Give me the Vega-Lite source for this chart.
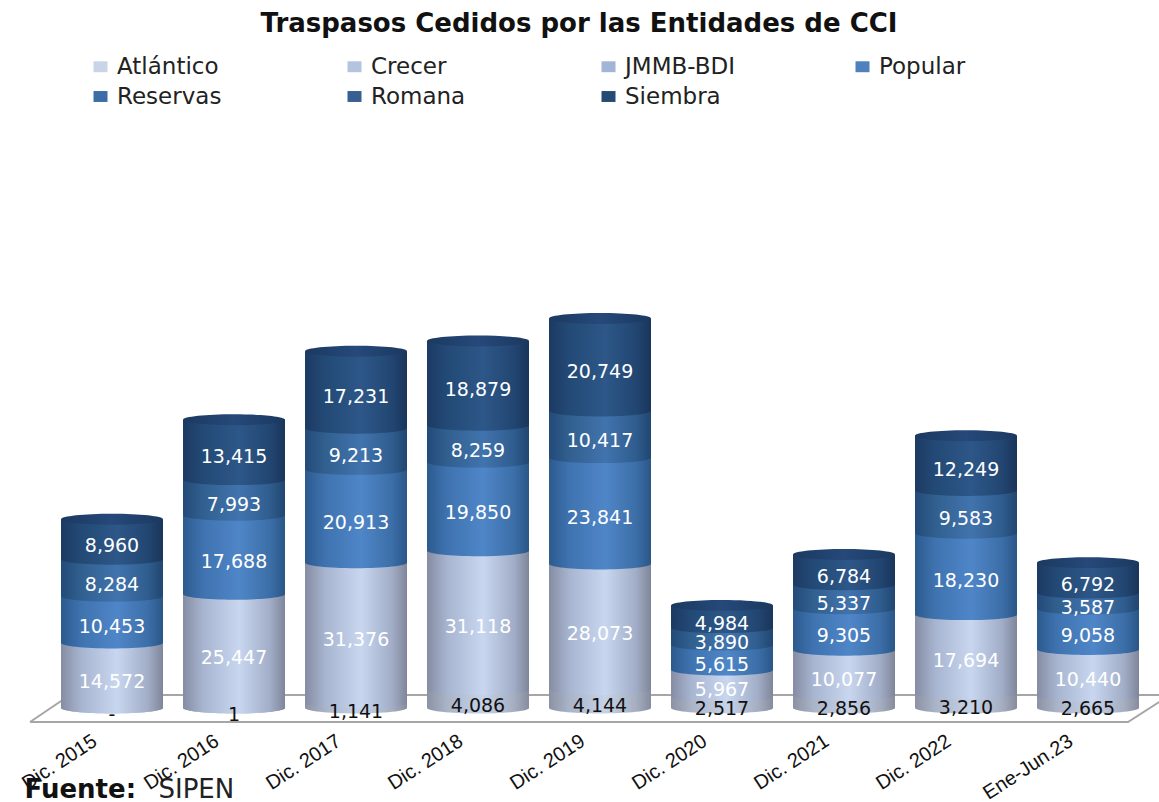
{
"$schema":"https://vega.github.io/schema/vega-lite/v6.json",
"width":1098,"height":680,
"autosize":{"type":"none"},
"padding":{"left":51,"top":50,"right":10,"bottom":72},
"background":"white",
"title":{"text":"Traspasos Cedidos por las Entidades de CCI","anchor":"middle","dx":-21,"offset":13,"font":"DejaVu Sans","fontSize":26,"fontWeight":"bold","color":"#111111"},
"config":{"view":{"stroke":null}},
"datasets":{
"floor":[{"i":1,"px":-0.172,"v":-3135},{"i":2,"px":8.828,"v":-3135},{"i":3,"px":9.172,"v":2911},{"i":4,"px":0.156,"v":2911},{"i":5,"px":-0.172,"v":-3135}],
"rows":[
{"period":"Dic. 2015","series":"Atlántico","value":0},{"period":"Dic. 2015","series":"Crecer","value":14572},{"period":"Dic. 2015","series":"Popular","value":10453},{"period":"Dic. 2015","series":"Reservas","value":8284},{"period":"Dic. 2015","series":"Siembra","value":8960},
{"period":"Dic. 2016","series":"Atlántico","value":1},{"period":"Dic. 2016","series":"Crecer","value":25447},{"period":"Dic. 2016","series":"Popular","value":17688},{"period":"Dic. 2016","series":"Reservas","value":7993},{"period":"Dic. 2016","series":"Siembra","value":13415},
{"period":"Dic. 2017","series":"Atlántico","value":1141},{"period":"Dic. 2017","series":"Crecer","value":31376},{"period":"Dic. 2017","series":"Popular","value":20913},{"period":"Dic. 2017","series":"Reservas","value":9213},{"period":"Dic. 2017","series":"Siembra","value":17231},
{"period":"Dic. 2018","series":"Atlántico","value":4086},{"period":"Dic. 2018","series":"Crecer","value":31118},{"period":"Dic. 2018","series":"Popular","value":19850},{"period":"Dic. 2018","series":"Reservas","value":8259},{"period":"Dic. 2018","series":"Siembra","value":18879},
{"period":"Dic. 2019","series":"Atlántico","value":4144},{"period":"Dic. 2019","series":"Crecer","value":28073},{"period":"Dic. 2019","series":"Popular","value":23841},{"period":"Dic. 2019","series":"Reservas","value":10417},{"period":"Dic. 2019","series":"Siembra","value":20749},
{"period":"Dic. 2020","series":"Atlántico","value":2517},{"period":"Dic. 2020","series":"Crecer","value":5967},{"period":"Dic. 2020","series":"Popular","value":5615},{"period":"Dic. 2020","series":"Reservas","value":3890},{"period":"Dic. 2020","series":"Siembra","value":4984},
{"period":"Dic. 2021","series":"Atlántico","value":2856},{"period":"Dic. 2021","series":"Crecer","value":10077},{"period":"Dic. 2021","series":"Popular","value":9305},{"period":"Dic. 2021","series":"Reservas","value":5337},{"period":"Dic. 2021","series":"Siembra","value":6784},
{"period":"Dic. 2022","series":"Atlántico","value":3210},{"period":"Dic. 2022","series":"Crecer","value":17694},{"period":"Dic. 2022","series":"Popular","value":18230},{"period":"Dic. 2022","series":"Reservas","value":9583},{"period":"Dic. 2022","series":"Siembra","value":12249},
{"period":"Ene-Jun.23","series":"Atlántico","value":2665},{"period":"Ene-Jun.23","series":"Crecer","value":10440},{"period":"Ene-Jun.23","series":"Popular","value":9058},{"period":"Ene-Jun.23","series":"Reservas","value":3587},{"period":"Ene-Jun.23","series":"Siembra","value":6792}
]},
"layer":[
{"data":{"name":"floor"},
 "mark":{"type":"line","color":"#a6a6a6","strokeWidth":2},
 "encoding":{
  "x":{"field":"px","type":"quantitative","scale":{"domain":[0,9],"nice":false,"zero":false},"axis":{"orient":"bottom","title":"SIPEN","titleX":107,"titleY":67,"titleAlign":"left","titleAnchor":"start","titleFont":"DejaVu Sans","titleFontSize":26,"titleFontWeight":"normal","titleColor":"#222222","titleBaseline":"alphabetic","labels":false,"ticks":false,"domain":false,"grid":false}},
  "y":{"field":"v","type":"quantitative","scale":{"domain":[-4926,147335],"nice":false,"zero":false},"axis":null},
  "order":{"field":"i","type":"ordinal"}}},
{"data":{"name":"rows"},
 "transform":[
  {"stack":"value","groupby":["period"],"sort":[{"field":"series"}],"as":["y0","y1"]},
  {"calculate":"(datum.y0+datum.y1)/2","as":"mid"},
  {"calculate":"datum.value===0?'-':format(datum.value,',')","as":"label"}
 ],
 "encoding":{
  "x":{"field":"period","type":"nominal","scale":{"domain":["Dic. 2015","Dic. 2016","Dic. 2017","Dic. 2018","Dic. 2019","Dic. 2020","Dic. 2021","Dic. 2022","Ene-Jun.23"],"paddingInner":0.164,"paddingOuter":0.082},
   "axis":{"orient":"bottom","title":"Fuente:","titleX":-27,"titleY":67,"titleAlign":"left","titleAnchor":"start","titleFont":"DejaVu Sans","titleFontSize":26,"titleFontWeight":"bold","titleColor":"#111111","titleBaseline":"alphabetic","labelAngle":-33,"labelAlign":"right","labelBaseline":"middle","labelOffset":-17,"labelPadding":9,"labelFont":"Liberation Sans","labelFontSize":20,"labelColor":"#111111","ticks":false,"domain":false,"grid":false}}
 },
 "layer":[
  {"mark":{"type":"point","filled":true,"opacity":0,"size":1},
   "encoding":{
    "y":{"field":"y0","type":"quantitative","scale":{"domain":[-4926,147335],"nice":false,"zero":false},"axis":null},
    "color":{"field":"series","type":"nominal","scale":{"domain":["Atlántico","Crecer","JMMB-BDI","Popular","Reservas","Romana","Siembra"],"range":["#c9d5e6","#b5c4de","#a3b5d6","#4f81bd","#3d6da6","#365f92","#254a74"]},
     "legend":{"orient":"none","legendX":38,"legendY":5,"columns":4,"direction":"horizontal","title":null,"gridAlign":"all","columnPadding":115,"rowPadding":6,"symbolType":"M-1,-0.78L1,-0.78L1,0.78L-1,0.78Z","symbolSize":196,"labelFont":"DejaVu Sans","labelFontSize":23,"labelColor":"#222222","labelOffset":5,"labelLimit":220}}}},
  {"transform":[{"filter":"datum.series==='Atlántico'"}],"layer":[
   {"mark":{"type":"bar","width":102,"color":{"gradient":"linear","x1":0,"y1":0,"x2":1,"y2":0,"stops":[{"offset":0,"color":"#8b92a3"},{"offset":0.2,"color":"#aab4c8"},{"offset":0.55,"color":"#c6d2e6"},{"offset":0.85,"color":"#a6afc2"},{"offset":1,"color":"#868c9c"}]}},
    "encoding":{"y":{"field":"y0","type":"quantitative"},"y2":{"field":"y1"}}},
   {"mark":{"type":"point","filled":true,"opacity":1,"strokeWidth":0,"size":10404,"shape":"M-1,-0.02L-1,0C-1,0.059,-0.552,0.107,0,0.107C0.552,0.107,1,0.059,1,0L1,-0.02Z","color":{"gradient":"linear","x1":0,"y1":0,"x2":1,"y2":0,"stops":[{"offset":0,"color":"#8b92a3"},{"offset":0.2,"color":"#aab4c8"},{"offset":0.55,"color":"#c6d2e6"},{"offset":0.85,"color":"#a6afc2"},{"offset":1,"color":"#868c9c"}]}},
    "encoding":{"y":{"field":"y0","type":"quantitative"}}}]},
  {"transform":[{"filter":"datum.series==='Crecer'"}],"layer":[
   {"mark":{"type":"bar","width":102,"color":{"gradient":"linear","x1":0,"y1":0,"x2":1,"y2":0,"stops":[{"offset":0,"color":"#858ca3"},{"offset":0.2,"color":"#a8b5d0"},{"offset":0.55,"color":"#c8d6f0"},{"offset":0.85,"color":"#a2aec8"},{"offset":1,"color":"#7f8699"}]}},
    "encoding":{"y":{"field":"y0","type":"quantitative"},"y2":{"field":"y1"}}},
   {"mark":{"type":"point","filled":true,"opacity":1,"strokeWidth":0,"size":10404,"shape":"M-1,-0.02L-1,0C-1,0.059,-0.552,0.107,0,0.107C0.552,0.107,1,0.059,1,0L1,-0.02Z","color":{"gradient":"linear","x1":0,"y1":0,"x2":1,"y2":0,"stops":[{"offset":0,"color":"#858ca3"},{"offset":0.2,"color":"#a8b5d0"},{"offset":0.55,"color":"#c8d6f0"},{"offset":0.85,"color":"#a2aec8"},{"offset":1,"color":"#7f8699"}]}},
    "encoding":{"y":{"field":"y0","type":"quantitative"}}}]},
  {"transform":[{"filter":"datum.series==='Popular'"}],"layer":[
   {"mark":{"type":"bar","width":102,"color":{"gradient":"linear","x1":0,"y1":0,"x2":1,"y2":0,"stops":[{"offset":0,"color":"#2c5a8e"},{"offset":0.2,"color":"#3f73b0"},{"offset":0.55,"color":"#4f86c8"},{"offset":0.85,"color":"#3c6fa8"},{"offset":1,"color":"#2a5688"}]}},
    "encoding":{"y":{"field":"y0","type":"quantitative"},"y2":{"field":"y1"}}},
   {"mark":{"type":"point","filled":true,"opacity":1,"strokeWidth":0,"size":10404,"shape":"M-1,-0.02L-1,0C-1,0.059,-0.552,0.107,0,0.107C0.552,0.107,1,0.059,1,0L1,-0.02Z","color":{"gradient":"linear","x1":0,"y1":0,"x2":1,"y2":0,"stops":[{"offset":0,"color":"#2c5a8e"},{"offset":0.2,"color":"#3f73b0"},{"offset":0.55,"color":"#4f86c8"},{"offset":0.85,"color":"#3c6fa8"},{"offset":1,"color":"#2a5688"}]}},
    "encoding":{"y":{"field":"y0","type":"quantitative"}}}]},
  {"transform":[{"filter":"datum.series==='Reservas'"}],"layer":[
   {"mark":{"type":"bar","width":102,"color":{"gradient":"linear","x1":0,"y1":0,"x2":1,"y2":0,"stops":[{"offset":0,"color":"#234a78"},{"offset":0.2,"color":"#31608f"},{"offset":0.55,"color":"#4173ad"},{"offset":0.85,"color":"#2f5d8f"},{"offset":1,"color":"#214670"}]}},
    "encoding":{"y":{"field":"y0","type":"quantitative"},"y2":{"field":"y1"}}},
   {"mark":{"type":"point","filled":true,"opacity":1,"strokeWidth":0,"size":10404,"shape":"M-1,-0.02L-1,0C-1,0.059,-0.552,0.107,0,0.107C0.552,0.107,1,0.059,1,0L1,-0.02Z","color":{"gradient":"linear","x1":0,"y1":0,"x2":1,"y2":0,"stops":[{"offset":0,"color":"#234a78"},{"offset":0.2,"color":"#31608f"},{"offset":0.55,"color":"#4173ad"},{"offset":0.85,"color":"#2f5d8f"},{"offset":1,"color":"#214670"}]}},
    "encoding":{"y":{"field":"y0","type":"quantitative"}}}]},
  {"transform":[{"filter":"datum.series==='Siembra'"}],"layer":[
   {"mark":{"type":"bar","width":102,"color":{"gradient":"linear","x1":0,"y1":0,"x2":1,"y2":0,"stops":[{"offset":0,"color":"#1c3a62"},{"offset":0.2,"color":"#234a76"},{"offset":0.55,"color":"#2d5788"},{"offset":0.85,"color":"#224672"},{"offset":1,"color":"#1a355a"}]}},
    "encoding":{"y":{"field":"y0","type":"quantitative"},"y2":{"field":"y1"}}},
   {"mark":{"type":"point","filled":true,"opacity":1,"strokeWidth":0,"size":10404,"shape":"M-1,-0.02L-1,0C-1,0.059,-0.552,0.107,0,0.107C0.552,0.107,1,0.059,1,0L1,-0.02Z","color":{"gradient":"linear","x1":0,"y1":0,"x2":1,"y2":0,"stops":[{"offset":0,"color":"#1c3a62"},{"offset":0.2,"color":"#234a76"},{"offset":0.55,"color":"#2d5788"},{"offset":0.85,"color":"#224672"},{"offset":1,"color":"#1a355a"}]}},
    "encoding":{"y":{"field":"y0","type":"quantitative"}}},
   {"mark":{"type":"point","filled":true,"opacity":1,"strokeWidth":0,"size":10404,"shape":"M-1,0C-1,-0.059,-0.552,-0.107,0,-0.107C0.552,-0.107,1,-0.059,1,0C1,0.059,0.552,0.107,0,0.107C-0.552,0.107,-1,0.059,-1,0Z","color":{"gradient":"linear","x1":0,"y1":0,"x2":1,"y2":0,"stops":[{"offset":0,"color":"#1b3960"},{"offset":0.5,"color":"#26497a"},{"offset":1,"color":"#1b3960"}]}},
    "encoding":{"y":{"field":"y1","type":"quantitative"}}}]},
  {"mark":{"type":"text","font":"DejaVu Sans","fontSize":19,"dy":7,"baseline":"middle"},
   "encoding":{
    "y":{"field":"mid","type":"quantitative"},
    "text":{"field":"label"},
    "color":{"condition":{"test":"datum.series==='Atlántico'","value":"#111111"},"value":"#ffffff"}}}
 ]}
],
"resolve":{"scale":{"x":"independent"},"axis":{"x":"independent"}}
}
